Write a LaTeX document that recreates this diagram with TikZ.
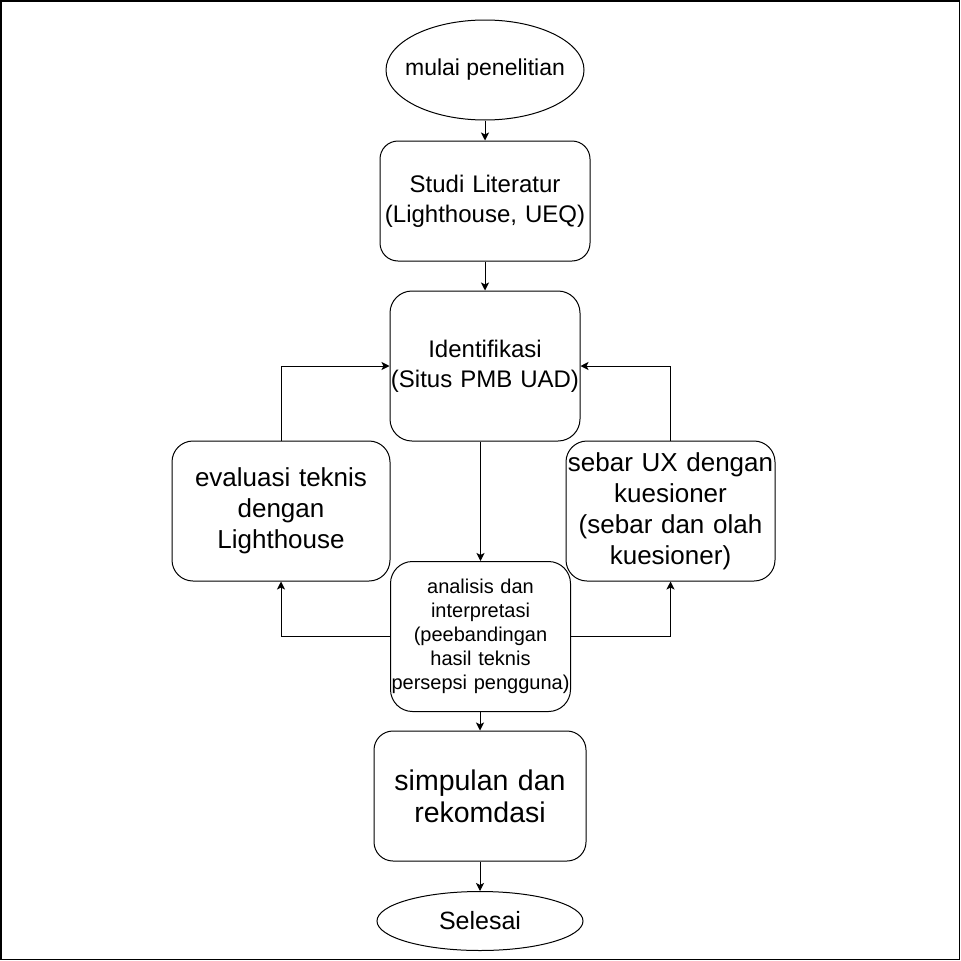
\documentclass[tikz,border=0pt]{standalone}
\usepackage{fontspec}
\setmainfont{Liberation Sans}
\usetikzlibrary{shapes.geometric,arrows.meta}
\tikzset{
  base/.style={draw=black, line width=1pt, inner sep=0pt, align=center, text=black},
  proc/.style={base, rectangle},
  term/.style={base, ellipse},
  conn/.style={line width=1pt, -{Stealth[length=8pt,width=8pt,inset=2pt]}},
}
\begin{document}
\begin{tikzpicture}[x=1pt,y=-1pt]
\useasboundingbox (0,0) rectangle (961,961);
\draw[line width=1.5pt] (0.75,0.75) rectangle (959.5,959.5);

\node[term, minimum width=198pt, minimum height=100pt, font=\fontsize{23}{28}\selectfont] (start) at (485,70) {\makebox[0pt]{mulai penelitian}};

\node[proc, rounded corners=18pt, minimum width=210pt, minimum height=120pt, text width=210pt, font=\fontsize{24}{30}\selectfont] (studi) at (485,201) {Studi Literatur\\(Lighthouse, UEQ)};

\node[proc, rounded corners=22pt, minimum width=190pt, minimum height=150pt, text width=190pt, font=\fontsize{24}{30}\selectfont] (ident) at (485,366) {Identifikasi\\(Situs PMB UAD)};

\node[proc, rounded corners=21pt, minimum width=218pt, minimum height=140pt, text width=218pt, font=\fontsize{26}{31}\selectfont] (eval) at (281,511) {evaluasi teknis\\dengan\\Lighthouse};

\node[proc, rounded corners=21pt, minimum width=209pt, minimum height=140pt, text width=209pt, font=\fontsize{26}{31}\selectfont] (sebar) at (670.5,511) {sebar UX dengan\\kuesioner\\(sebar dan olah\\kuesioner)};

\node[proc, rounded corners=22pt, minimum width=180pt, minimum height=150pt, text width=180pt, font=\fontsize{20}{24}\selectfont] (ana) at (480.5,636.5) {analisis dan\\interpretasi\\(peebandingan\\hasil teknis\\persepsi pengguna)};

\node[proc, rounded corners=19pt, minimum width=212pt, minimum height=130pt, text width=212pt, font=\fontsize{28.5}{32}\selectfont] (simp) at (480,796) {simpulan dan\\rekomdasi};

\node[term, minimum width=206pt, minimum height=59pt, font=\fontsize{25}{30}\selectfont] (end) at (480,921) {\makebox[0pt]{Selesai}};

\draw[conn] (start) -- (studi);
\draw[conn] (studi) -- (ident);
\draw[conn] (ana.north |- ident.south) -- (ana.north);
\draw[conn] (eval.north) |- (ident.west);
\draw[conn] (sebar.north) |- (ident.east);
\draw[conn] (ana.west) -| (eval.south);
\draw[conn] (ana.east) -| (sebar.south);
\draw[conn] (ana.south -| simp.north) -- (simp.north);
\draw[conn] (simp) -- (end);
\end{tikzpicture}
\end{document}
